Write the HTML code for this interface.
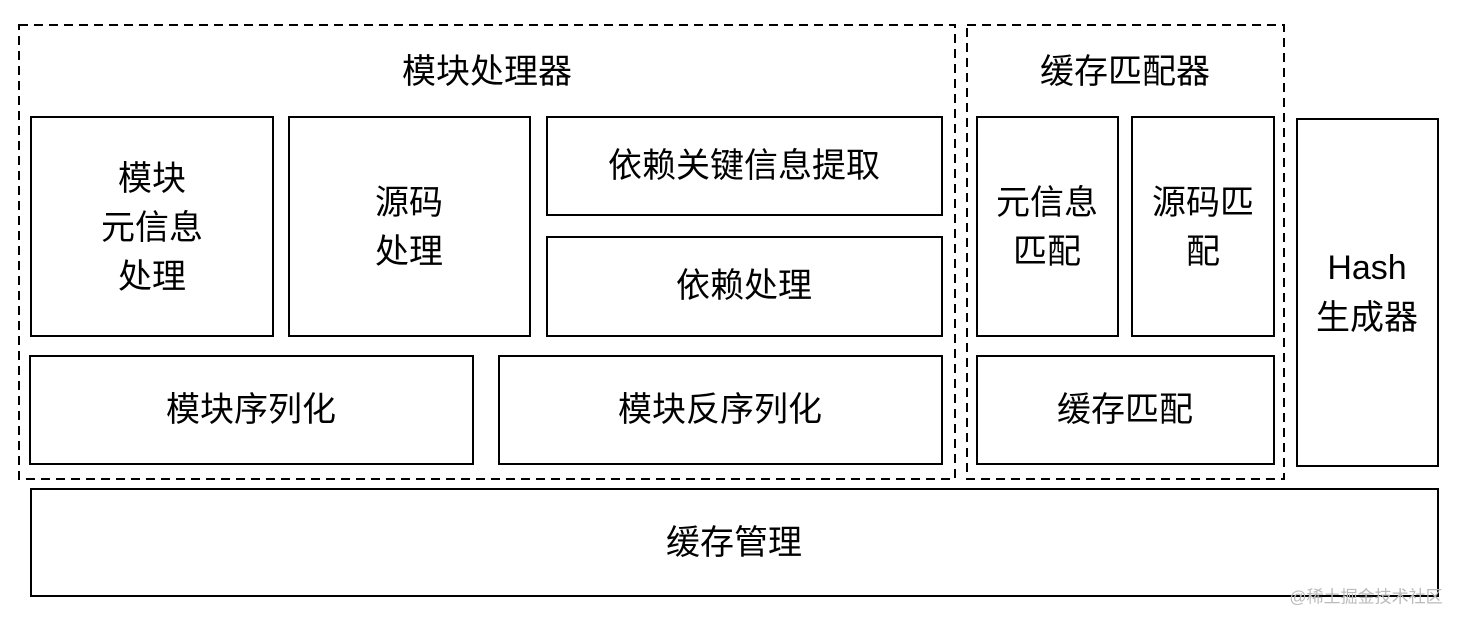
<!DOCTYPE html>
<html><head><meta charset="utf-8"><style>
html,body{margin:0;padding:0;background:#fff;}
svg{display:block;}
text{font-family:"Liberation Sans","Noto Sans CJK SC",sans-serif;font-size:34px;fill:#000;text-anchor:middle;dominant-baseline:central;}
</style></head><body>
<svg width="1464" height="624" viewBox="0 0 1464 624">
<g fill="none" stroke="#000" stroke-width="2" stroke-dasharray="9,6">
<rect x="19" y="25" width="936" height="454"/>
<rect x="967" y="25" width="317" height="454"/>
</g>
<g fill="#fff" stroke="#000" stroke-width="2">
<rect x="31" y="117" width="242" height="219"/>
<rect x="289" y="117" width="241" height="219"/>
<rect x="547" y="117" width="395" height="98"/>
<rect x="547" y="237" width="395" height="99"/>
<rect x="30" y="356" width="443" height="108"/>
<rect x="499" y="356" width="443" height="108"/>
<rect x="977" y="117" width="141" height="219"/>
<rect x="1132" y="117" width="142" height="219"/>
<rect x="977" y="356" width="297" height="108"/>
<rect x="1297" y="119" width="141" height="347"/>
<rect x="31" y="489" width="1407" height="107"/>
</g>
<text x="487" y="72">模块处理器</text>
<text x="1125" y="72">缓存匹配器</text>
<text x="152" y="179">模块</text>
<text x="152" y="228">元信息</text>
<text x="152" y="277">处理</text>
<text x="409" y="203">源码</text>
<text x="409" y="252">处理</text>
<text x="744" y="166">依赖关键信息提取</text>
<text x="744" y="286">依赖处理</text>
<text x="251" y="410">模块序列化</text>
<text x="720" y="410">模块反序列化</text>
<text x="1047" y="203">元信息</text>
<text x="1047" y="252">匹配</text>
<text x="1203" y="203">源码匹</text>
<text x="1203" y="252">配</text>
<text x="1125" y="410">缓存匹配</text>
<text x="1367" y="268">Hash</text>
<text x="1367" y="318">生成器</text>
<text x="734" y="543">缓存管理</text>
<text x="1366" y="597" style="font-size:17px;fill:#bbb">@稀土掘金技术社区</text>
</svg>
</body></html>
